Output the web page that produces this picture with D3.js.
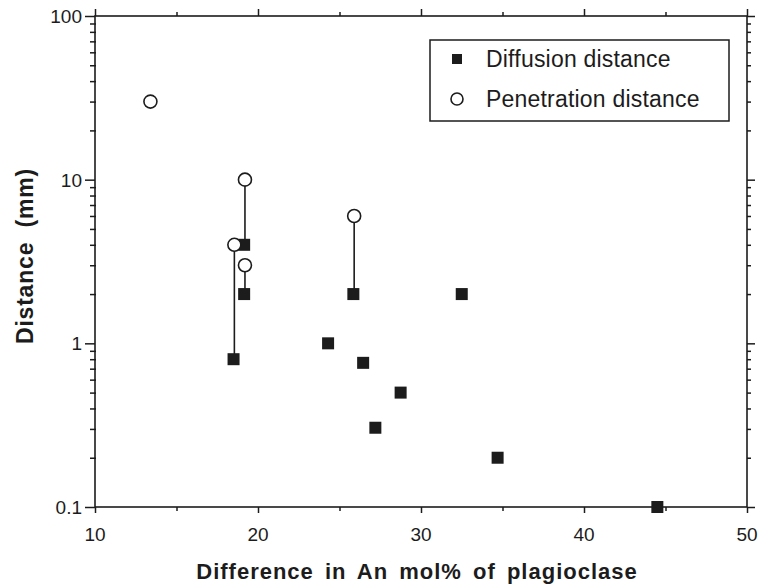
<!DOCTYPE html>
<html>
<head>
<meta charset="utf-8">
<script src="https://cdn.jsdelivr.net/npm/d3@7"></script>
<style>
  body { margin: 0; background: #fff; }
  svg { font-family: "Liberation Sans", Arial, sans-serif; }
</style>
</head>
<body>
<div id="container"></div>
<script>
/* CONSTANTS AND GLOBALS */
const width = 760,
  height = 586,
  margin = {top: 16, bottom: 79, left: 95, right: 13},
  ink = "#1c1c1c";

/* DATA */
// filled squares
const diffX = [18.5, 19.15, 19.15, 25.85, 24.3, 26.45, 28.75, 27.2, 32.5, 34.7, 44.5];
const diffY = [0.8, 4, 2, 2, 1, 0.76, 0.5, 0.305, 2, 0.2, 0.1];
// open circles
const penX = [13.4, 19.2, 18.55, 19.2, 25.9];
const penY = [30, 10, 4, 3, 6];
// vertical tie lines: [penetration index, diffusion index]
const links = [[1, 1], [2, 0], [3, 2], [4, 3]];

const xTicks = [10, 20, 30, 40, 50];
const xMinor = [15, 25, 35, 45];
const yTicks = [0.1, 1, 10, 100];
const yTickLabels = ["0.1", "1", "10", "100"];

const legendLabels = ["Diffusion distance", "Penetration distance"];

/* SCALES */
const xScale = d3.scaleLinear()
  .domain([10, 50])
  .range([margin.left, width - margin.right]);

const yScale = d3.scaleLog()
  .domain([0.1, 100])
  .range([height - margin.bottom, margin.top]);

const yMinor = [];
[0.1, 1, 10].forEach(d => { for (let k = 2; k <= 9; k++) yMinor.push(d * k); });

/* HTML ELEMENTS */
const svg = d3.select("#container")
  .append("svg")
  .attr("width", width)
  .attr("height", height);

const x0 = margin.left, x1 = width - margin.right,
  y0 = height - margin.bottom, y1 = margin.top;

// frame
svg.append("rect")
  .attr("x", x0).attr("y", y1)
  .attr("width", x1 - x0).attr("height", y0 - y1)
  .attr("fill", "none").attr("stroke", ink).attr("stroke-width", 1.6);

// axes (ticks only, labels added by hand)
svg.append("g")
  .attr("transform", `translate(0,${y0})`)
  .call(d3.axisBottom(xScale).tickValues(xTicks).tickSize(6).tickFormat(""));
svg.append("g")
  .attr("transform", `translate(0,${y0})`)
  .call(d3.axisBottom(xScale).tickValues(xMinor).tickSize(4).tickFormat(""));
svg.append("g")
  .attr("transform", `translate(0,${y1})`)
  .call(d3.axisTop(xScale).tickValues(xTicks).tickSize(7).tickFormat(""));
svg.append("g")
  .attr("transform", `translate(0,${y1})`)
  .call(d3.axisTop(xScale).tickValues(xMinor).tickSize(4).tickFormat(""));

svg.append("g")
  .attr("transform", `translate(${x0},0)`)
  .call(d3.axisLeft(yScale).tickValues(yTicks).tickSize(10).tickFormat(""));
svg.append("g")
  .attr("transform", `translate(${x0 + 1},0)`)
  .call(d3.axisLeft(yScale).tickValues(yMinor).tickSize(6).tickFormat(""));
svg.append("g")
  .attr("transform", `translate(${x1},0)`)
  .call(d3.axisRight(yScale).tickValues(yTicks).tickSize(8).tickFormat(""));
svg.append("g")
  .attr("transform", `translate(${x1},0)`)
  .call(d3.axisRight(yScale).tickValues(yMinor).tickSize(4).tickFormat(""));

svg.selectAll(".domain").remove();
svg.selectAll(".tick line").attr("stroke", ink).attr("stroke-width", 1.5);

// tick labels
svg.append("g").selectAll("text")
  .data(xTicks)
  .join("text")
  .attr("x", d => xScale(d))
  .attr("y", y0 + 34)
  .attr("text-anchor", "middle")
  .attr("font-size", 19)
  .attr("fill", ink)
  .text(d => d);

svg.append("g").selectAll("text")
  .data(yTicks)
  .join("text")
  .attr("x", x0 - 13)
  .attr("y", d => yScale(d) + 7)
  .attr("text-anchor", "end")
  .attr("font-size", 19)
  .attr("fill", ink)
  .text((d, i) => yTickLabels[i]);

// axis titles
svg.append("text")
  .attr("x", (x0 + x1) / 2 - 4)
  .attr("y", 579)
  .attr("text-anchor", "middle")
  .attr("font-size", 22)
  .attr("font-weight", "bold")
  .attr("letter-spacing", 1)
  .attr("word-spacing", 4)
  .attr("fill", ink)
  .text("Difference in An mol% of plagioclase");

svg.append("text")
  .attr("transform", `translate(33,256) rotate(-90)`)
  .attr("text-anchor", "middle")
  .attr("font-size", 23)
  .attr("font-weight", "bold")
  .attr("letter-spacing", 0.8)
  .style("white-space", "pre")
  .attr("fill", ink)
  .text("Distance  (mm)");

// tie lines
svg.append("g").selectAll("line")
  .data(links)
  .join("line")
  .attr("x1", d => xScale(penX[d[0]]))
  .attr("x2", d => xScale(penX[d[0]]))
  .attr("y1", d => yScale(penY[d[0]]))
  .attr("y2", d => yScale(diffY[d[1]]))
  .attr("stroke", ink)
  .attr("stroke-width", 1.6);

// squares
const sq = 12;
svg.append("g").selectAll("rect")
  .data(diffX.map((x, i) => ({x, y: diffY[i]})))
  .join("rect")
  .attr("x", d => xScale(d.x) - sq / 2)
  .attr("y", d => yScale(d.y) - sq / 2)
  .attr("width", sq).attr("height", sq)
  .attr("fill", ink);

// circles
svg.append("g").selectAll("circle")
  .data(penX.map((x, i) => ({x, y: penY[i]})))
  .join("circle")
  .attr("cx", d => xScale(d.x))
  .attr("cy", d => yScale(d.y))
  .attr("r", 6.5)
  .attr("fill", "#fff")
  .attr("stroke", ink)
  .attr("stroke-width", 1.6);

// legend
const legend = svg.append("g");
legend.append("rect")
  .attr("x", 430).attr("y", 40)
  .attr("width", 299).attr("height", 81)
  .attr("fill", "#fff").attr("stroke", ink).attr("stroke-width", 1.5);
legend.append("rect")
  .attr("x", 452).attr("y", 54)
  .attr("width", 10).attr("height", 10)
  .attr("fill", ink);
legend.append("circle")
  .attr("cx", 457).attr("cy", 99)
  .attr("r", 6)
  .attr("fill", "#fff").attr("stroke", ink).attr("stroke-width", 1.6);
legend.selectAll("text.lab")
  .data(legendLabels)
  .join("text")
  .attr("class", "lab")
  .attr("x", 486)
  .attr("y", (d, i) => 67 + i * 40)
  .attr("font-size", 23)
  .attr("letter-spacing", 0.2)
  .attr("fill", ink)
  .text(d => d);
</script>
</body>
</html>
